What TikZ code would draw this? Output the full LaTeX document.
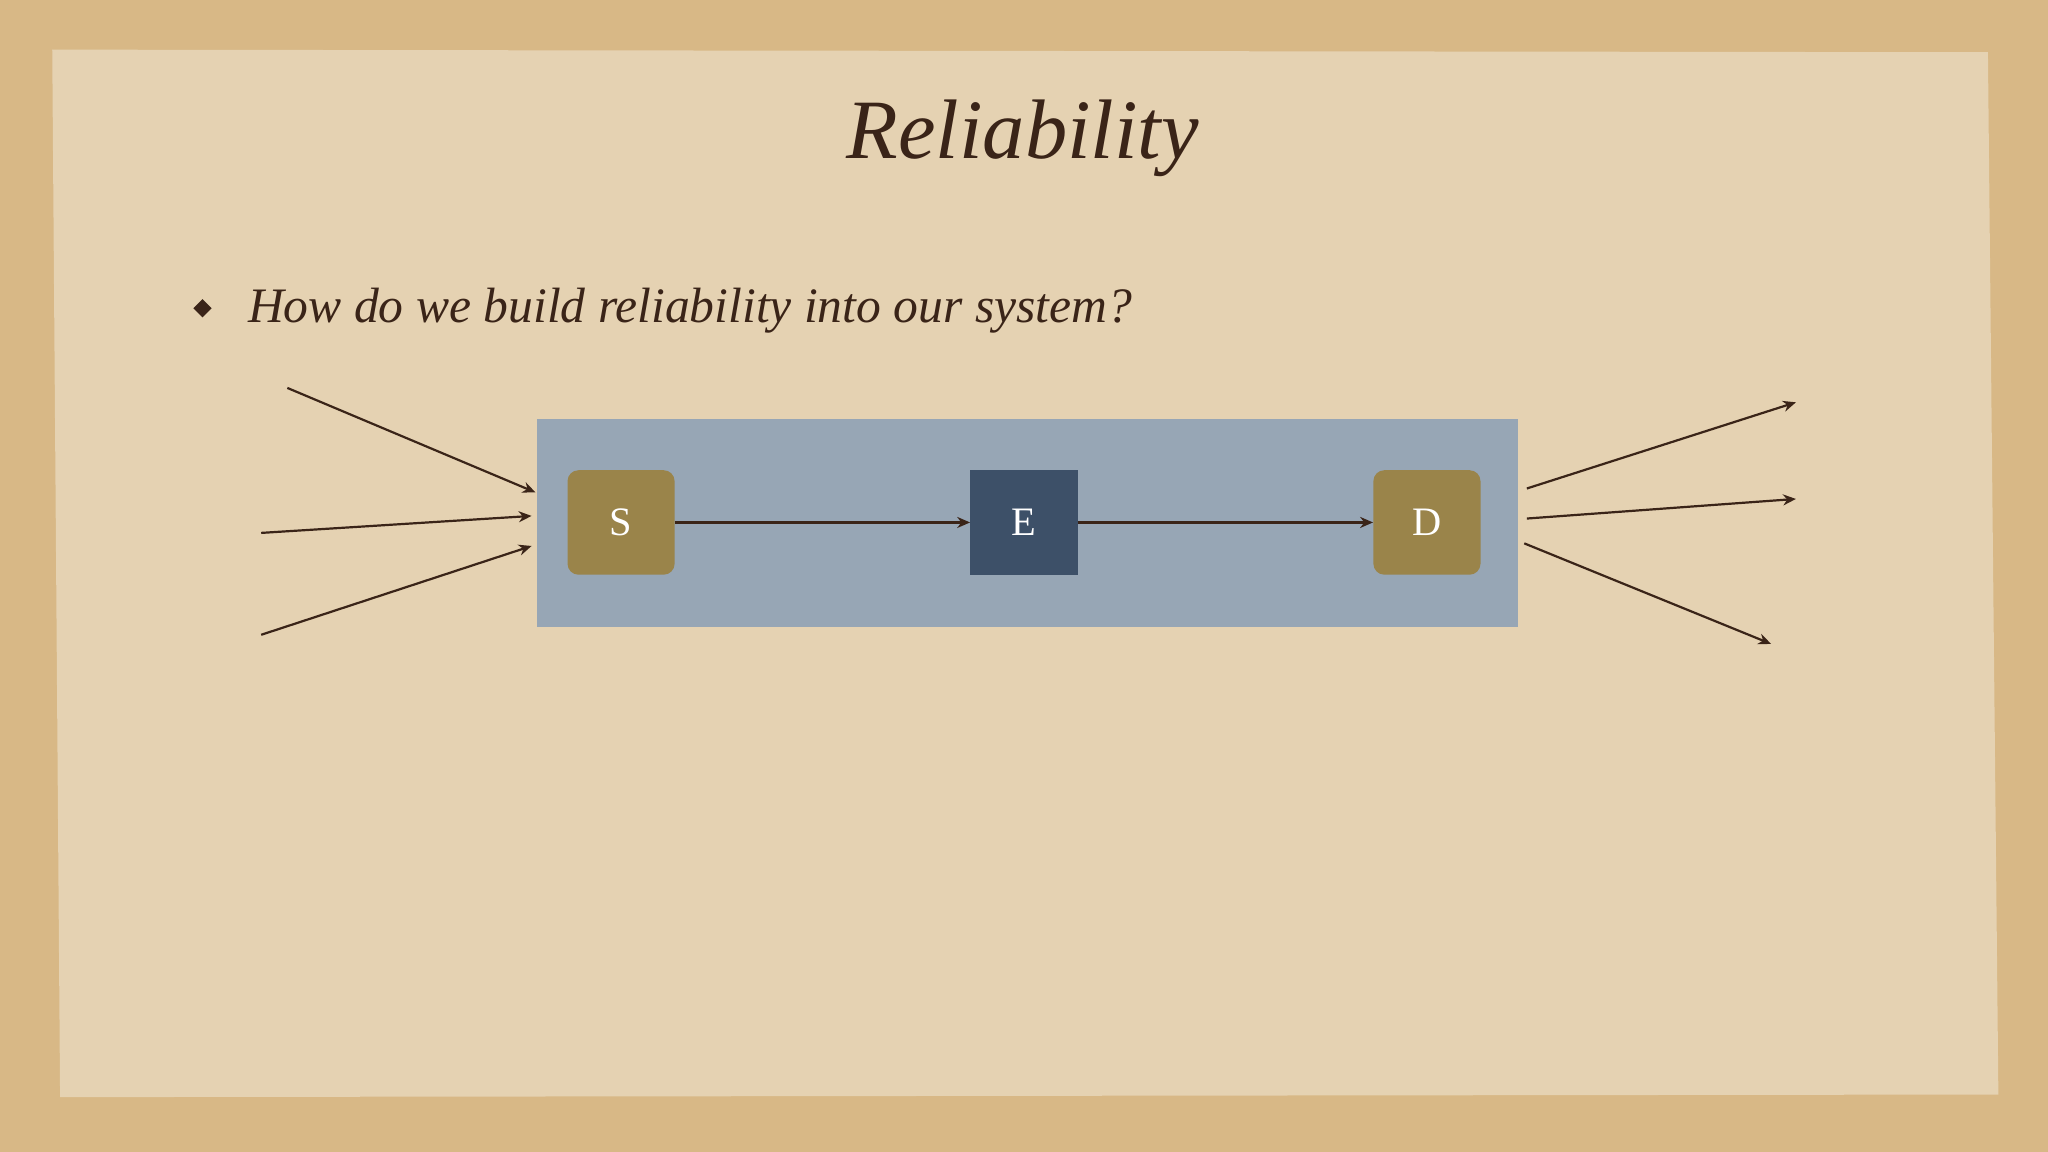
\documentclass[tikz,border=0pt]{standalone}
\usepackage{fontspec}
\setmainfont{Liberation Serif}
\usetikzlibrary{arrows.meta}
\definecolor{bgc}{HTML}{D8B886}
\definecolor{paper}{HTML}{E5D2B2}
\definecolor{ink}{HTML}{3A2418}
\definecolor{panel}{HTML}{97A6B5}
\definecolor{gold}{HTML}{9A844A}
\definecolor{navy}{HTML}{3D5068}
\tikzset{
 box/.style={minimum width=2.05cm,minimum height=2.0cm,text=white,font=\fontsize{22}{22}\selectfont,inner sep=0pt},
 conn/.style={draw=ink,line width=1.2pt,-{Stealth[length=7pt,width=6pt]}}
}
\begin{document}
\begin{tikzpicture}[x=0.025cm,y=-0.025cm]
\fill[bgc] (0,0) rectangle (1568,882);
\useasboundingbox (0,0) rectangle (1568,882);
\fill[paper] (40,38) -- (1522,40) -- (1530,838) -- (46,840) -- cycle;
\node[text=ink,font=\fontsize{46}{46}\selectfont\itshape] (title) at (783,106) {Reliability};
\fill[ink] (155,229) -- (162,236) -- (155,243) -- (148,236) -- cycle;
\node[text=ink,font=\fontsize{27}{27}\selectfont\itshape,anchor=west] (q) at (185,238) {How do we build reliability into our system?};
\fill[panel] (411,321) rectangle (1162,480);
\node[box,fill=gold,rounded corners=6pt] (S) at (475.5,400) {S};
\node[box,fill=navy] (E) at (784,400) {E};
\node[box,fill=gold,rounded corners=6pt] (D) at (1092.5,400) {D};
\draw[conn] (S) -- (E);
\draw[conn] (E) -- (D);
\coordinate (i1) at (220,297); \coordinate (j1) at (410,377);
\coordinate (i2) at (200,408); \coordinate (j2) at (407,395);
\coordinate (i3) at (200,486); \coordinate (j3) at (407,418);
\coordinate (o1) at (1169,374); \coordinate (p1) at (1375,308);
\coordinate (o2) at (1169,397); \coordinate (p2) at (1375,382);
\coordinate (o3) at (1167,416); \coordinate (p3) at (1356,493);
\foreach \a/\b in {i1/j1,i2/j2,i3/j3,o1/p1,o2/p2,o3/p3}
  \draw[conn] (\a) -- (\b);
\end{tikzpicture}
\end{document}
